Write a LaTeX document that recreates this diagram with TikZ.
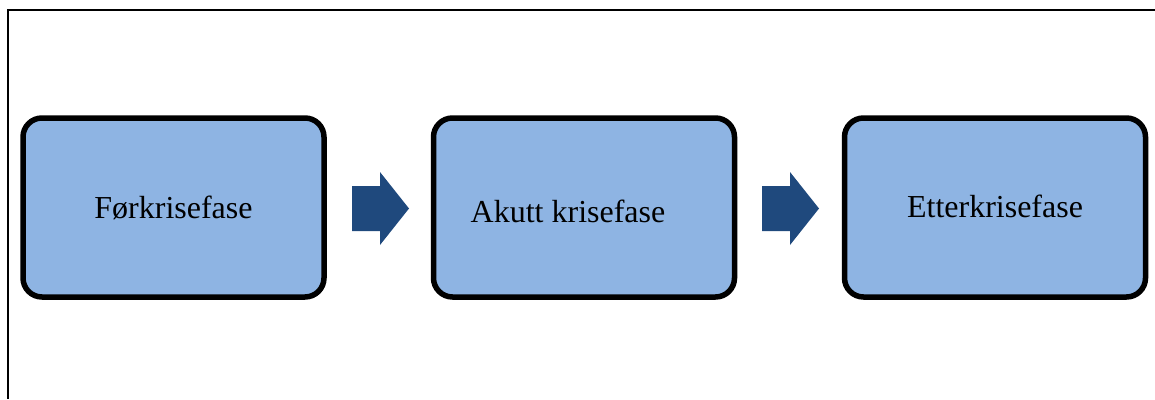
\documentclass[tikz,border=0pt]{standalone}
\usepackage{fontspec}
\setmainfont{Liberation Serif}
\begin{document}
\begin{tikzpicture}[x=1pt,y=-1pt,
  phase/.style={draw=black, line width=5.5pt, fill=phasefill, rounded corners=19pt,
    rectangle, minimum width=301pt, minimum height=179pt, inner sep=0pt},
  phaselabel/.style={anchor=base, inner sep=0pt, font=\fontsize{32}{38}\selectfont},
  blockarrow/.style={fill=arrowfill},
  frameline/.style={draw=black, line width=2pt}]
  \definecolor{phasefill}{HTML}{8EB4E3}
  \definecolor{arrowfill}{HTML}{1F497D}
  \useasboundingbox (0,0) rectangle (1155,399);

  % open frame: top and left edges only
  \coordinate (frameTL) at (8,10);
  \coordinate (frameTR) at (1155,10);
  \coordinate (frameBL) at (8,399);
  \draw[frameline] (frameTR) -- (frameTL) -- (frameBL);

  % the three phases
  \node[phase] (pre)   at (173.5,207.5) {};
  \node[phase] (acute) at (584,207.5) {};
  \node[phase] (post)  at (995,207.5) {};

  \node[phaselabel] (preText)   at (173.5,218) {Førkrisefase};
  \node[phaselabel] (acuteText) at (568,222)   {Akutt krisefase};
  \node[phaselabel] (postText)  at (995,217)   {Etterkrisefase};

  % block arrows between the phases
  \foreach \dx in {0,410} {
    \fill[blockarrow] (352+\dx,186) -- (380+\dx,186) -- (380+\dx,172)
      -- (409+\dx,208.5) -- (380+\dx,245) -- (380+\dx,231) -- (352+\dx,231) -- cycle;
  }
\end{tikzpicture}
\end{document}
